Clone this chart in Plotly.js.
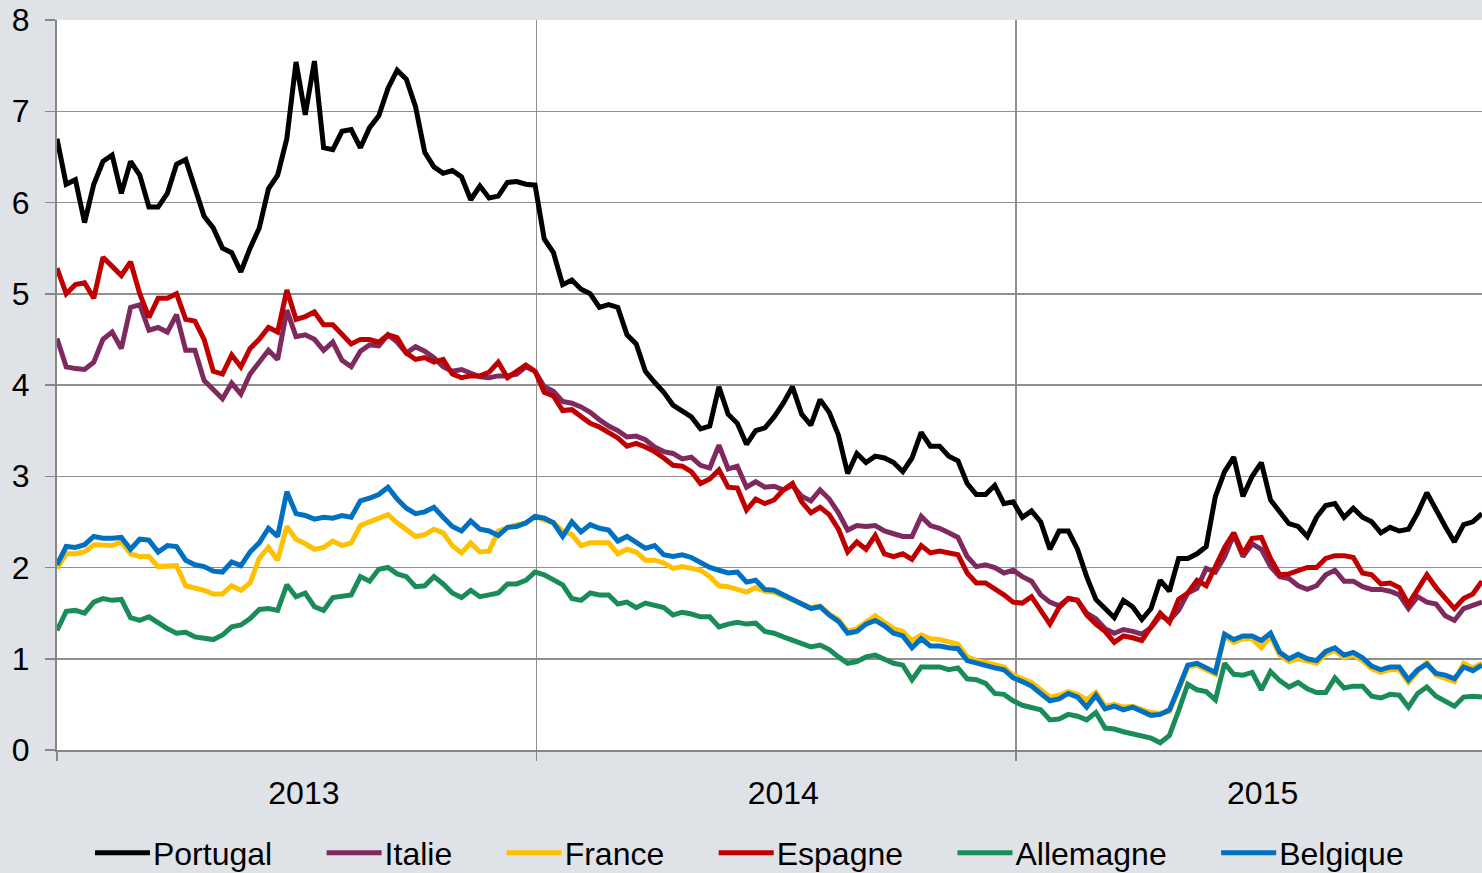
<!DOCTYPE html>
<html>
<head>
<meta charset="utf-8">
<script src="https://cdn.plot.ly/plotly-3.0.1.min.js"></script>
<style>
  html, body { margin: 0; padding: 0; background: #dfe2e7; }
  #chart { width: 1482px; height: 873px; }
</style>
</head>
<body>
<div id="chart"></div>
<script>
// Weekly observations starting on the first day of 2013
const startDate = '2013-01-01';
const stepDays = 7;

const portugal = [6.70,6.20,6.25,5.78,6.20,6.45,6.52,6.10,6.45,6.30,5.95,5.95,6.10,6.42,6.47,6.15,5.85,5.72,5.50,5.45,
  5.24,5.50,5.72,6.15,6.30,6.70,7.54,6.96,7.55,6.60,6.58,6.78,6.80,6.60,6.82,6.95,7.25,7.45,7.35,7.05,
  6.55,6.39,6.32,6.35,6.28,6.03,6.18,6.05,6.07,6.22,6.23,6.20,6.19,5.60,5.45,5.10,5.15,5.05,5.00,4.85,
  4.88,4.85,4.55,4.45,4.15,4.03,3.92,3.78,3.71,3.65,3.52,3.55,3.98,3.68,3.58,3.35,3.50,3.53,3.65,3.80,
  3.98,3.68,3.56,3.84,3.70,3.45,3.03,3.25,3.15,3.22,3.20,3.15,3.05,3.20,3.48,3.33,3.33,3.22,3.17,2.92,
  2.80,2.80,2.90,2.70,2.72,2.55,2.62,2.50,2.20,2.40,2.40,2.20,1.90,1.65,1.55,1.45,1.64,1.57,1.43,1.55,
  1.86,1.74,2.10,2.10,2.15,2.23,2.78,3.05,3.21,2.78,3.00,3.15,2.74,2.62,2.48,2.45,2.34,2.55,2.68,2.70,
  2.55,2.65,2.55,2.50,2.38,2.44,2.40,2.42,2.60,2.82,2.62,2.45,2.28,2.47,2.50,2.59];

const italie = [4.51,4.20,4.18,4.17,4.25,4.50,4.58,4.40,4.85,4.88,4.60,4.63,4.58,4.77,4.38,4.38,4.05,3.95,3.85,4.02,
  3.90,4.12,4.26,4.38,4.28,4.82,4.53,4.55,4.50,4.38,4.47,4.27,4.20,4.37,4.44,4.43,4.55,4.47,4.35,4.42,
  4.37,4.30,4.20,4.15,4.17,4.13,4.09,4.08,4.10,4.10,4.12,4.20,4.15,3.98,3.93,3.82,3.80,3.76,3.70,3.62,
  3.55,3.50,3.43,3.44,3.40,3.32,3.27,3.25,3.19,3.21,3.12,3.09,3.34,3.08,3.11,2.88,2.94,2.88,2.89,2.85,
  2.90,2.78,2.73,2.85,2.75,2.60,2.41,2.46,2.45,2.46,2.40,2.37,2.34,2.34,2.56,2.46,2.43,2.38,2.33,2.12,
  2.01,2.03,2.00,1.94,1.97,1.90,1.85,1.70,1.62,1.58,1.66,1.64,1.50,1.44,1.33,1.28,1.32,1.30,1.27,1.34,
  1.47,1.42,1.53,1.72,1.77,1.99,1.95,2.12,2.36,2.12,2.26,2.20,2.01,1.90,1.88,1.80,1.76,1.80,1.92,1.97,
  1.85,1.85,1.79,1.76,1.76,1.74,1.70,1.55,1.68,1.62,1.60,1.47,1.42,1.55,1.58,1.62];

const france = [1.99,2.15,2.15,2.17,2.25,2.24,2.24,2.28,2.15,2.12,2.12,2.01,2.01,2.02,1.80,1.78,1.75,1.71,1.71,1.80,
  1.75,1.83,2.10,2.22,2.08,2.45,2.31,2.26,2.20,2.22,2.29,2.24,2.27,2.46,2.50,2.54,2.58,2.49,2.41,2.34,
  2.36,2.42,2.38,2.24,2.16,2.27,2.17,2.18,2.40,2.44,2.47,2.48,2.56,2.52,2.49,2.40,2.36,2.24,2.27,2.27,
  2.27,2.15,2.20,2.17,2.08,2.08,2.05,1.99,2.01,1.99,1.97,1.90,1.80,1.79,1.76,1.73,1.78,1.74,1.73,1.69,
  1.65,1.61,1.56,1.58,1.49,1.43,1.30,1.33,1.40,1.47,1.40,1.33,1.30,1.20,1.26,1.22,1.21,1.18,1.16,1.02,
  0.98,0.96,0.93,0.91,0.82,0.78,0.74,0.66,0.58,0.60,0.64,0.61,0.55,0.63,0.48,0.50,0.47,0.48,0.44,0.41,
  0.40,0.42,0.66,0.91,0.93,0.88,0.83,1.25,1.18,1.22,1.22,1.12,1.25,1.04,0.97,1.00,0.97,0.95,1.05,1.09,
  1.01,1.04,0.98,0.89,0.85,0.88,0.88,0.74,0.86,0.96,0.82,0.79,0.75,0.95,0.90,0.95];

const espagne = [5.28,5.00,5.10,5.12,4.95,5.40,5.30,5.20,5.35,5.00,4.74,4.95,4.95,5.00,4.72,4.70,4.50,4.15,4.12,4.33,
  4.20,4.40,4.50,4.63,4.58,5.04,4.72,4.75,4.80,4.66,4.66,4.55,4.45,4.50,4.50,4.47,4.55,4.52,4.35,4.28,
  4.30,4.25,4.28,4.12,4.08,4.10,4.10,4.14,4.25,4.08,4.15,4.22,4.15,3.92,3.88,3.72,3.73,3.65,3.58,3.54,
  3.48,3.42,3.33,3.36,3.32,3.27,3.20,3.12,3.11,3.05,2.92,2.97,3.07,2.88,2.87,2.63,2.75,2.70,2.74,2.85,
  2.92,2.72,2.60,2.66,2.58,2.42,2.17,2.28,2.20,2.35,2.15,2.12,2.15,2.09,2.24,2.16,2.18,2.16,2.14,1.94,
  1.83,1.83,1.77,1.70,1.62,1.61,1.68,1.53,1.38,1.56,1.66,1.64,1.48,1.38,1.30,1.18,1.25,1.23,1.20,1.35,
  1.50,1.40,1.65,1.72,1.86,1.80,2.00,2.22,2.38,2.15,2.32,2.33,2.10,1.92,1.93,1.97,2.00,2.00,2.10,2.13,
  2.13,2.11,1.94,1.92,1.82,1.83,1.78,1.60,1.76,1.92,1.78,1.66,1.55,1.66,1.71,1.85];

const allemagne = [1.31,1.52,1.53,1.50,1.62,1.66,1.64,1.65,1.45,1.42,1.46,1.39,1.33,1.28,1.29,1.24,1.22,1.21,1.26,1.35,
  1.37,1.44,1.54,1.55,1.53,1.81,1.68,1.72,1.57,1.53,1.67,1.69,1.70,1.90,1.85,1.98,2.00,1.93,1.90,1.79,
  1.80,1.90,1.82,1.72,1.67,1.75,1.68,1.70,1.72,1.82,1.82,1.86,1.95,1.92,1.86,1.81,1.66,1.64,1.72,1.70,
  1.70,1.60,1.62,1.56,1.61,1.59,1.56,1.48,1.51,1.49,1.46,1.46,1.35,1.38,1.40,1.38,1.39,1.30,1.28,1.24,
  1.20,1.17,1.13,1.15,1.10,1.02,0.95,0.97,1.02,1.04,1.00,0.95,0.93,0.77,0.91,0.91,0.91,0.88,0.90,0.78,
  0.77,0.73,0.62,0.61,0.54,0.49,0.47,0.44,0.33,0.34,0.39,0.37,0.33,0.41,0.24,0.23,0.20,0.18,0.15,0.13,
  0.08,0.16,0.43,0.72,0.66,0.64,0.55,0.95,0.83,0.82,0.85,0.66,0.86,0.76,0.69,0.74,0.67,0.63,0.63,0.79,
  0.68,0.70,0.70,0.59,0.57,0.61,0.60,0.47,0.62,0.69,0.59,0.54,0.48,0.58,0.59,0.58];

const belgique = [2.03,2.23,2.22,2.25,2.34,2.32,2.32,2.33,2.20,2.31,2.30,2.17,2.24,2.23,2.08,2.03,2.01,1.96,1.95,2.06,
  2.02,2.17,2.27,2.43,2.34,2.83,2.59,2.57,2.53,2.55,2.54,2.57,2.55,2.73,2.76,2.80,2.88,2.75,2.65,2.59,
  2.61,2.66,2.55,2.45,2.40,2.51,2.42,2.40,2.35,2.44,2.45,2.49,2.56,2.54,2.49,2.34,2.50,2.39,2.47,2.43,
  2.41,2.29,2.34,2.28,2.21,2.24,2.14,2.12,2.14,2.11,2.06,2.00,1.97,1.94,1.95,1.84,1.86,1.76,1.75,1.70,
  1.64,1.59,1.55,1.57,1.48,1.41,1.28,1.30,1.38,1.42,1.36,1.28,1.25,1.12,1.22,1.14,1.14,1.12,1.11,0.98,
  0.95,0.93,0.90,0.88,0.79,0.75,0.70,0.62,0.54,0.56,0.62,0.58,0.47,0.60,0.45,0.48,0.44,0.47,0.42,0.38,
  0.39,0.44,0.68,0.93,0.95,0.90,0.85,1.27,1.21,1.25,1.25,1.20,1.28,1.07,1.00,1.05,1.00,0.98,1.08,1.12,
  1.04,1.07,1.01,0.92,0.88,0.91,0.91,0.77,0.88,0.94,0.84,0.82,0.78,0.91,0.87,0.93];

const seriesNames = ['Portugal', 'Italie', 'France', 'Espagne', 'Allemagne', 'Belgique'];
const seriesValues = [portugal, italie, france, espagne, allemagne, belgique];
const seriesColors = ['#000000', '#7f2a5e', '#ffc000', '#c00000', '#1a8c57', '#0070c0'];

const yearLabels = ['2013', '2014', '2015'];
const yearLabelDates = ['2013-07-08', '2014-07-08', '2015-07-08'];

function buildDates(n) {
  const base = new Date(startDate + 'T00:00:00Z');
  const out = [];
  for (let i = 0; i < n; i++) {
    const d = new Date(base.getTime() + i * stepDays * 86400000);
    out.push(d.toISOString().slice(0, 10));
  }
  return out;
}

const dates = buildDates(portugal.length);
const pad = '\u00a0\u00a0\u00a0\u00a0\u00a0';

const traces = seriesNames.map((name, i) => ({
  type: 'scatter',
  mode: 'lines',
  name: name + pad,
  x: dates,
  y: seriesValues[i],
  line: { color: seriesColors[i], width: 5 },
  hoverinfo: 'x+y+name'
}));

const font = { family: '"Liberation Sans", Arial, sans-serif', size: 32, color: '#000000' };

const layout = {
  width: 1482,
  height: 873,
  paper_bgcolor: '#dfe2e7',
  plot_bgcolor: '#ffffff',
  font: font,
  margin: { l: 57, r: 0, t: 20, b: 123, pad: 0 },
  showlegend: true,
  legend: {
    orientation: 'h',
    xref: 'container', yref: 'container',
    x: 0.0607, xanchor: 'left',
    y: 0.0229, yanchor: 'middle',
    font: font,
    bgcolor: 'rgba(0,0,0,0)',
    itemwidth: 53,
    tracegroupgap: 0
  },
  xaxis: {
    type: 'date',
    range: ['2013-01-01', '2015-12-22'],
    tickmode: 'array',
    tickvals: yearLabelDates,
    ticktext: yearLabels,
    ticks: '',
    showgrid: false,
    zeroline: false,
    showline: true,
    linecolor: '#878787',
    linewidth: 2,
    ticklabelstandoff: 14,
    tickfont: font,
    minor: {
      tickmode: 'linear',
      tick0: '2013-01-01',
      dtick: 'M12',
      ticks: 'outside',
      ticklen: 9,
      tickwidth: 1.5,
      tickcolor: '#878787',
      showgrid: true,
      gridcolor: '#8f8f8f',
      gridwidth: 1.5
    },
    fixedrange: true
  },
  yaxis: {
    range: [0, 8],
    tickmode: 'linear',
    tick0: 0,
    dtick: 1,
    ticks: 'outside',
    ticklen: 10,
    tickwidth: 1.5,
    tickcolor: '#878787',
    showgrid: true,
    gridcolor: '#8f8f8f',
    gridwidth: 1.5,
    zeroline: false,
    showline: true,
    linecolor: '#878787',
    linewidth: 2,
    ticklabelstandoff: 9,
    tickfont: font,
    fixedrange: true
  }
};

Plotly.newPlot('chart', traces, layout, { displayModeBar: false, staticPlot: true }).then(gd => {
  // lengthen the legend line samples to match the original's longer keys
  gd.querySelectorAll('.legend .legendlines path').forEach(p => {
    p.setAttribute('d', 'M5,0h55');
  });
});
</script>
</body>
</html>
